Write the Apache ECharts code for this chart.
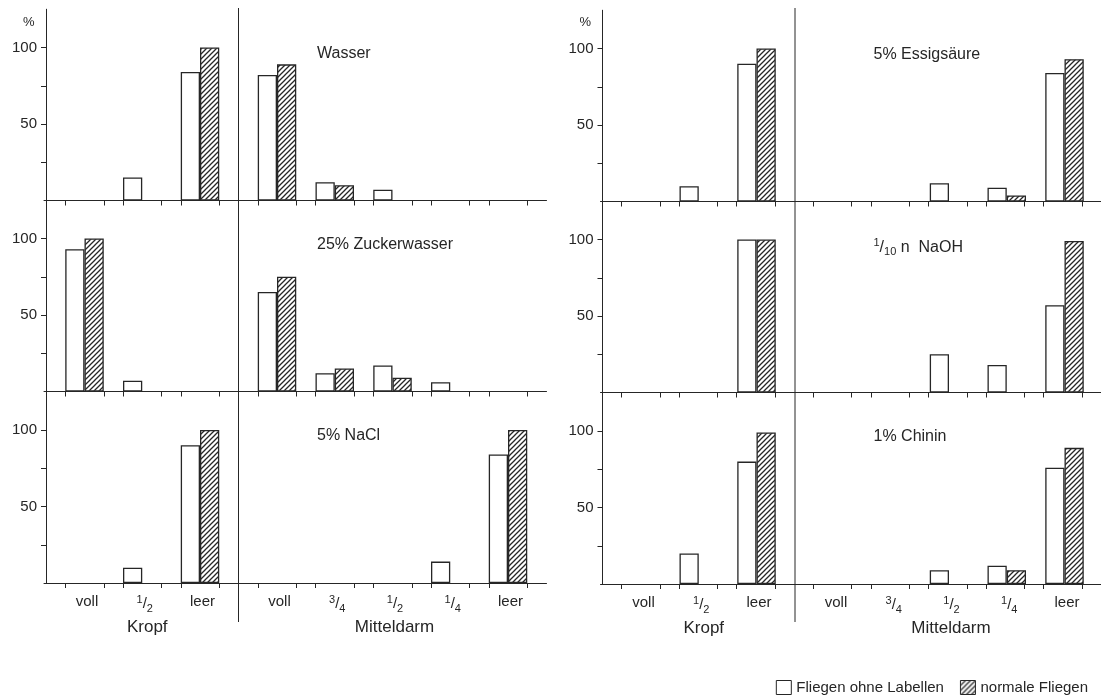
<!DOCTYPE html>
<html><head><meta charset="utf-8">
<script src="https://cdn.jsdelivr.net/npm/echarts@6/dist/echarts.min.js"></script>
<style>html,body{margin:0;padding:0;background:#fff}#c{width:1101px;height:700px}</style>
</head><body><div id="c"></div>
<script>
// ---------- data ----------
const kropfCats = ['voll', '1/2', 'leer'];
const mitteldarmCats = ['voll', '3/4', '1/2', '1/4', 'leer'];
const groupNames = ['Kropf', 'Mitteldarm'];
const seriesNames = ['Fliegen ohne Labellen', 'normale Fliegen'];
const panelTitles = ['Wasser', '5% Essigsäure', '25% Zuckerwasser', '1/10 n  NaOH', '5% NaCl', '1% Chinin'];
const yTickValues = [25, 50, 75, 100];
const yLabelValues = [50, 100];
// each: 3 Kropf values, then 5 Mitteldarm values (%)
const wasserOhne   = [0, 15, 84,   82, 12, 7, 0, 0];
const wasserNormal = [0, 0, 100,   89, 10, 0, 0, 0];
const essigOhne    = [0, 10, 90,   0, 0, 12, 9, 84];
const essigNormal  = [0, 0, 100,   0, 0, 0, 4, 93];
const zuckerOhne   = [93, 7, 0,    65, 12, 17, 6, 0];
const zuckerNormal = [100, 0, 0,   75, 15, 9, 0, 0];
const naohOhne     = [0, 0, 100,   0, 0, 25, 18, 57];
const naohNormal   = [0, 0, 100,   0, 0, 0, 0, 99];
const naclOhne     = [0, 10, 90,   0, 0, 0, 14, 84];
const naclNormal   = [0, 0, 100,   0, 0, 0, 0, 100];
const chininOhne   = [0, 20, 80,   0, 0, 9, 12, 76];
const chininNormal = [0, 0, 99,    0, 0, 0, 9, 89];
const panelOhne = [wasserOhne, essigOhne, zuckerOhne, naohOhne, naclOhne, chininOhne];
const panelNormal = [wasserNormal, essigNormal, zuckerNormal, naohNormal, naclNormal, chininNormal];

// ---------- layout / style ----------
const FONT = '"Liberation Sans", Arial, Helvetica, sans-serif';
const ink = '#262626';
const U = 19.25;                 // one bar width in px
const colX = [44, 600.5];        // y axis x of each column
const rowBase = [200.5, 391.5, 583];
const colDy = [0, 1];
const YMAX = 125, PX = 1.53;
const gridH = YMAX * PX;
const kN = kropfCats.length, mN = mitteldarmCats.length;
const kStart = 0.5, kEnd = kStart + 3 * kN;
const divU = kEnd + 0.5;
const mStart = divU + 0.5, mEnd = mStart + 3 * mN;
const xMaxU = mEnd + 0.5;
const tickU = [];
for (let i = 0; i < kN; i++) { const c = kStart + 1.5 + 3 * i; tickU.push(c - 1, c + 1); }
for (let i = 0; i < mN; i++) { const c = mStart + 1.5 + 3 * i; tickU.push(c - 1, c + 1); }

function makeHatch() {
  const s = 5, cv = document.createElement('canvas');
  cv.width = s; cv.height = s;
  const ctx = cv.getContext('2d');
  ctx.fillStyle = '#fff'; ctx.fillRect(0, 0, s, s);
  ctx.strokeStyle = ink; ctx.lineWidth = 1.3;
  ctx.beginPath();
  ctx.moveTo(-1, s + 1); ctx.lineTo(s + 1, -1);
  ctx.moveTo(-1, 1); ctx.lineTo(1, -1);
  ctx.moveTo(s - 1, s + 1); ctx.lineTo(s + 1, s - 1);
  ctx.stroke();
  return cv;
}
const hatch = { image: makeHatch(), repeat: 'repeat' };

function fracText(s) { return s.replace(/(\d+)\/(\d+)/, '{sup|$1}{sl|/}{sub|$2}'); }
function fracRich(size) {
  return {
    sup: { fontSize: Math.round(size * 0.7), lineHeight: 12, verticalAlign: 'top', color: ink, fontFamily: FONT },
    sl: { fontSize: size, lineHeight: 20, color: ink, fontFamily: FONT },
    sub: { fontSize: Math.round(size * 0.7), lineHeight: 12, verticalAlign: 'bottom', color: ink, fontFamily: FONT }
  };
}
const whiteStyle = { color: '#fff', borderColor: ink, borderWidth: 1.3 };
const hatchStyle = { color: hatch, borderColor: ink, borderWidth: 1.3 };

const grid = [], xAxis = [], yAxis = [], series = [], title = [], graphic = [];
for (let p = 0; p < 6; p++) {
  const r = Math.floor(p / 2), c = p % 2;
  const base = rowBase[r] + colDy[c], top = base - gridH;
  const O = colX[c] + 2;
  const isBottom = r === 2;
  // frame grid: axis lines, ticks, y labels
  grid.push({ left: colX[c], top: top, width: O + xMaxU * U - colX[c], height: gridH });
  const g = grid.length - 1;
  xAxis.push({ gridIndex: g, type: 'value', min: (colX[c] - O) / U, max: xMaxU,
    axisLine: { show: true, onZero: false, lineStyle: { color: ink, width: 1 } },
    axisTick: { show: true, customValues: tickU, length: 5, lineStyle: { color: ink, width: 1 } },
    axisLabel: { show: false }, splitLine: { show: false } });
  yAxis.push({ gridIndex: g, type: 'value', min: 0, max: YMAX,
    axisLine: { show: true, lineStyle: { color: ink, width: 1 } },
    axisTick: { show: true, customValues: yTickValues, length: 5, lineStyle: { color: ink, width: 1 } },
    axisLabel: { customValues: yLabelValues, fontSize: 15, color: ink, fontFamily: FONT, margin: 7 },
    splitLine: { show: false } });
  // data grids (Kropf, Mitteldarm)
  [[kropfCats, 0, kN, kStart], [mitteldarmCats, kN, kN + mN, mStart]].forEach(([cats, a, b, startU], gi) => {
    grid.push({ left: O + startU * U, top: top, width: cats.length * 3 * U, height: gridH });
    const gd = grid.length - 1;
    xAxis.push({ gridIndex: gd, type: 'category', data: cats,
      axisLine: { show: false }, axisTick: { show: false }, splitLine: { show: false },
      axisLabel: { show: isBottom, interval: 0, margin: 11, fontSize: 15, color: ink, fontFamily: FONT,
        padding: [0, 0, 0, 5], formatter: v => fracText(v), rich: fracRich(15) },
      name: isBottom ? groupNames[gi] : '', nameLocation: 'middle', nameGap: 36,
      nameTextStyle: { fontSize: 17, color: ink, fontFamily: FONT, padding: gi === 0 ? [0, 0, 0, 10] : [0, 0, 0, 4] } });
    yAxis.push({ gridIndex: gd, type: 'value', min: 0, max: YMAX, show: false });
    series.push({ type: 'bar', name: seriesNames[0], xAxisIndex: gd, yAxisIndex: gd,
      data: panelOhne[p].slice(a, b).map(v => (v === 0 ? null : v)),
      barWidth: U, barGap: '0%', itemStyle: whiteStyle, silent: true });
    series.push({ type: 'bar', name: seriesNames[1], xAxisIndex: gd, yAxisIndex: gd,
      data: panelNormal[p].slice(a, b).map(v => (v === 0 ? null : v)),
      barWidth: U, barGap: '0%', itemStyle: hatchStyle, silent: true });
  });
  title.push({ text: fracText(panelTitles[p]), left: O + 271, top: base - 155, padding: 0,
    textStyle: { fontSize: 16, fontWeight: 'normal', color: ink, fontFamily: FONT, rich: fracRich(16) } });
  if (r === 0) {
    title.push({ text: '%', left: colX[c] - 21, top: 16, padding: 0,
      textStyle: { fontSize: 13, fontWeight: 'normal', color: ink, fontFamily: FONT } });
  }
}
for (let c = 0; c < 2; c++) {
  const X = colX[c] + 2 + divU * U;
  graphic.push({ type: 'line', silent: true, shape: { x1: X, y1: 8, x2: X, y2: 622 },
    style: { stroke: ink, lineWidth: 1 } });
}

const chart = echarts.init(document.getElementById('c'));
chart.setOption({
  animation: false,
  backgroundColor: '#fff',
  textStyle: { fontFamily: FONT },
  grid, xAxis, yAxis, series, title, graphic,
  legend: {
    data: [
      { name: seriesNames[0], itemStyle: { color: '#fff', borderColor: ink, borderWidth: 1 } },
      { name: seriesNames[1], itemStyle: { color: hatch, borderColor: ink, borderWidth: 1 } }
    ],
    icon: 'rect', right: 8, bottom: 0, itemWidth: 15, itemHeight: 14, itemGap: 16,
    selectedMode: false,
    textStyle: { fontSize: 15, color: ink, fontFamily: FONT }
  }
});
</script>
</body></html>
